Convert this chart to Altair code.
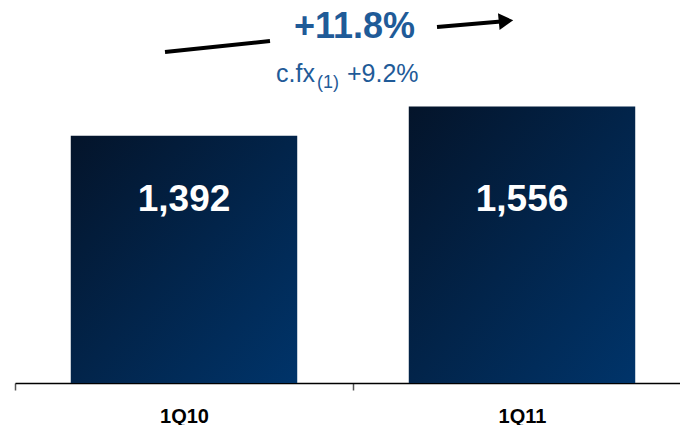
import altair as alt
import pandas as pd

quarters = ["1Q10", "1Q11"]
values = [1392, 1556]
value_labels = ["1,392", "1,556"]
growth_label = "+11.8%"
fx_prefix = "c.fx"
fx_note = "(1)"
fx_growth = "+9.2%"

df = pd.DataFrame({"quarter": quarters, "value": values, "label": value_labels})

BLUE = "#1f5b98"

xscale = alt.Scale(domain=quarters, range=[0, 676], paddingInner=0.33, paddingOuter=0.165)
yscale = alt.Scale(domain=[0, 2100])

gradient = alt.LinearGradient(
    gradient="linear",
    stops=[alt.GradientStop(color="#04142a", offset=0),
           alt.GradientStop(color="#00346a", offset=1)],
    x1=0, y1=0, x2=1, y2=1,
)

base = alt.Chart(df)

bars = base.mark_bar(color=gradient).encode(
    x=alt.X("quarter:N", scale=xscale, sort=quarters,
            axis=alt.Axis(title=None, labelAngle=0, labelFont="Liberation Sans",
                          labelFontSize=20, labelFontWeight="bold", labelColor="#000000",
                          domainColor="#000000", domainWidth=1.5, tickColor="#555555",
                          tickWidth=1.5, tickSize=7, labelPadding=16,
                          tickOffset=-169, labelOffset=169)),
    y=alt.Y("value:Q", scale=yscale, axis=None),
)

bar_text = base.mark_text(font="Liberation Sans", fontSize=37, fontWeight="bold",
                          color="white", baseline="middle").encode(
    x=alt.X("quarter:N", scale=xscale, sort=quarters),
    text="label:N",
    y=alt.value(190),
)

ann = pd.DataFrame({"t": [growth_label]})
growth = alt.Chart(ann).mark_text(font="Liberation Sans", fontSize=36, fontWeight="bold",
                                  color=BLUE, align="center", baseline="alphabetic").encode(
    text="t:N", x=alt.value(339.5), y=alt.value(28))

fx1 = alt.Chart(pd.DataFrame({"t": [fx_prefix]})).mark_text(
    font="Liberation Sans", fontSize=25, color=BLUE, align="left", baseline="alphabetic"
).encode(text="t:N", x=alt.value(261), y=alt.value(72))
fx2 = alt.Chart(pd.DataFrame({"t": [fx_note]})).mark_text(
    font="Liberation Sans", fontSize=18, color=BLUE, align="left", baseline="alphabetic"
).encode(text="t:N", x=alt.value(302), y=alt.value(78))
fx3 = alt.Chart(pd.DataFrame({"t": [fx_growth]})).mark_text(
    font="Liberation Sans", fontSize=25, color=BLUE, align="left", baseline="alphabetic"
).encode(text="t:N", x=alt.value(332), y=alt.value(72))

line_left = alt.Chart(ann).mark_rule(color="black", strokeWidth=4).encode(
    x=alt.value(150), x2=alt.value(255), y=alt.value(42), y2=alt.value(31))
line_right = alt.Chart(ann).mark_rule(color="black", strokeWidth=4).encode(
    x=alt.value(422), x2=alt.value(486), y=alt.value(17), y2=alt.value(11.5))
head = alt.Chart(ann).mark_point(shape="triangle-right", filled=True, color="black",
                                 opacity=1, size=280, angle=354.5).encode(
    x=alt.value(491), y=alt.value(11))

chart = alt.layer(bars, bar_text, growth, fx1, fx2, fx3, line_left, line_right, head).properties(
    width=665, height=373,
    autosize=alt.AutoSizeParams(type="none"),
    padding={"left": 15, "top": 10, "right": 0, "bottom": 42},
    background="white",
).configure_view(stroke=None)

chart.save("out.html", embed_options={"renderer": "svg", "actions": False})
